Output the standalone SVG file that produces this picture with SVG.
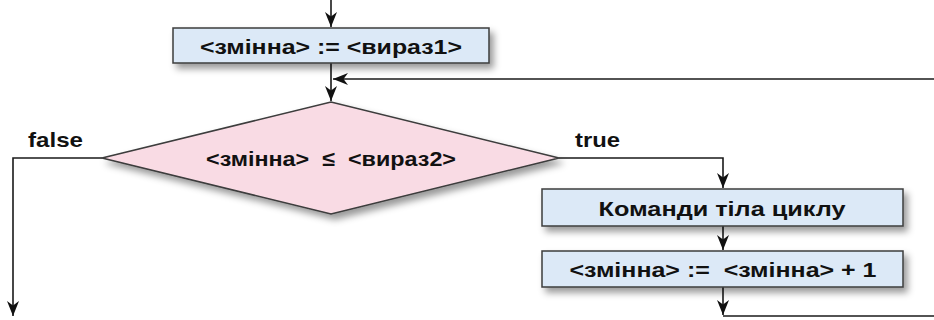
<svg xmlns="http://www.w3.org/2000/svg" width="934" height="320" viewBox="0 0 934 320">
<style>
.box{fill:#dce9f7;stroke:#3c3c3c;stroke-width:1.5;filter:url(#sh)}
.dia{fill:#f9dbe4;stroke:#3c3c3c;stroke-width:1.5;filter:url(#sh)}
.t{font-family:"Liberation Sans",Arial,sans-serif;font-weight:bold;font-size:21px;fill:#111}
.c{text-anchor:middle}
.ln{fill:none;stroke:#1a1a1a;stroke-width:1.6;marker-end:url(#ah)}
.ln2{fill:none;stroke:#1a1a1a;stroke-width:1.6}
</style>
<defs>
<filter id="sh" x="-10%" y="-20%" width="130%" height="160%">
<feDropShadow dx="4" dy="5" stdDeviation="3.5" flood-color="#000" flood-opacity="0.4"/>
</filter>
<marker id="ah" markerUnits="userSpaceOnUse" markerWidth="16" markerHeight="14" viewBox="-15 -7 16 14" refX="0" refY="0" orient="auto">
<path d="M0,0 L-15,-6 L-10.5,0 L-15,6 Z" fill="#111"/>
</marker>
</defs>
<g id="connectors">
<path class="ln" d="M331,0 V27"/>
<path class="ln" d="M331,63 V101"/>
<path class="ln" d="M934,79 H333"/>
<path class="ln" d="M102,158 H13 V316"/>
<path class="ln" d="M559,158 H723 V188"/>
<path class="ln" d="M723,226 V250"/>
<path class="ln" d="M723,287 V315"/>
<path class="ln2" d="M723,316 H934"/>
</g>
<g id="init">
<rect class="box" x="173" y="28" width="316" height="35"/>
<text class="t c" x="331" y="53.5" textLength="262" lengthAdjust="spacingAndGlyphs">&lt;змінна&gt; := &lt;вираз1&gt;</text>
</g>
<g id="condition">
<polygon class="dia" points="102,158 331,102 559,158 331,214"/>
<text class="t c" x="331" y="165.5" textLength="250" lengthAdjust="spacingAndGlyphs" xml:space="preserve">&lt;змінна&gt;  ≤  &lt;вираз2&gt;</text>
</g>
<g id="label-false">
<text class="t" x="28" y="146.5" textLength="55" lengthAdjust="spacingAndGlyphs">false</text>
</g>
<g id="label-true">
<text class="t" x="575" y="146.5" textLength="45" lengthAdjust="spacingAndGlyphs">true</text>
</g>
<g id="body">
<rect class="box" x="542" y="189" width="361" height="37"/>
<text class="t c" x="722" y="215.5" textLength="247" lengthAdjust="spacingAndGlyphs">Команди тіла циклу</text>
</g>
<g id="increment">
<rect class="box" x="542" y="251" width="361" height="36"/>
<text class="t c" x="723" y="276.5" textLength="307" lengthAdjust="spacingAndGlyphs" xml:space="preserve">&lt;змінна&gt; :=  &lt;змінна&gt; + 1</text>
</g>
</svg>
